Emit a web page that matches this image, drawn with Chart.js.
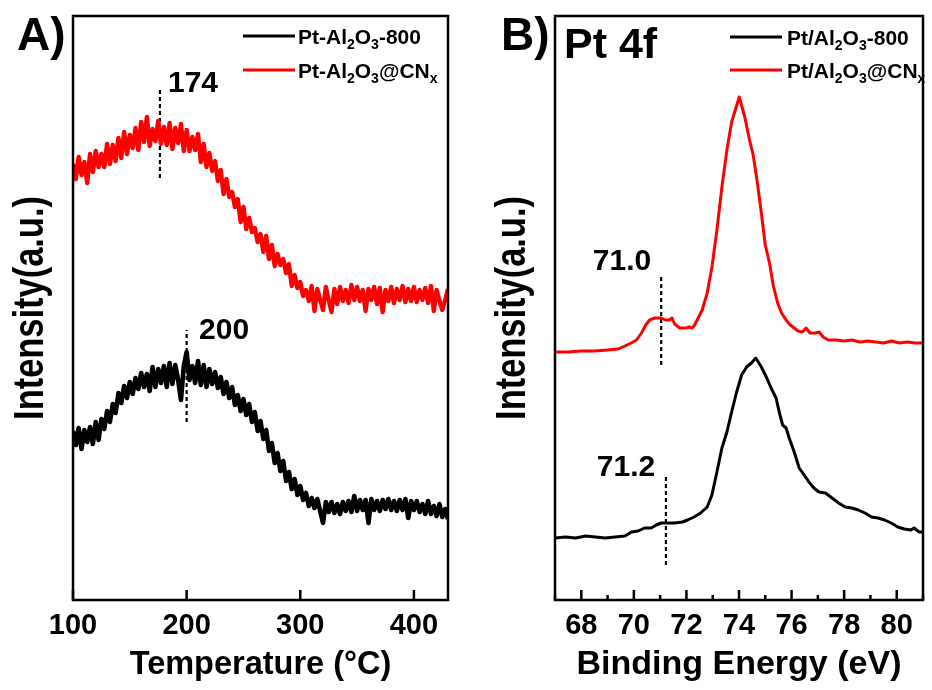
<!DOCTYPE html>
<html><head><meta charset="utf-8">
<script src="https://cdn.jsdelivr.net/npm/chart.js@4.4.1/dist/chart.umd.min.js"></script>
<style>
html,body{margin:0;padding:0;background:#fff;}
#wrap{position:relative;width:932px;height:690px;overflow:hidden;}
.panel{position:absolute;top:0;width:466px;height:690px;}
canvas{display:block;}
</style></head><body>
<div id="wrap">
<div class="panel" style="left:0"><canvas id="cA" width="466" height="690"></canvas></div>
<div class="panel" style="left:466px"><canvas id="cB" width="466" height="690"></canvas></div>
</div>
<script>
// ---------- Panel A: temperature-programmed traces (a.u.) ----------
const seriesNamesA = ['Pt-Al₂O₃-800', 'Pt-Al₂O₃@CNₓ'];
const tempA = [100,102.5,105,107.5,110,112.5,115,117.5,120,122.5,125,127.5,130,132.5,135,137.5,140,142.5,145,147.5,150,152.5,155,157.5,160,162.5,165,167.5,170,172.5,175,177.5,180,182.5,185,187.5,190,192.5,195,197.5,200,202.5,205,207.5,210,212.5,215,217.5,220,222.5,225,227.5,230,232.5,235,237.5,240,242.5,245,247.5,250,252.5,255,257.5,260,262.5,265,267.5,270,272.5,275,277.5,280,282.5,285,287.5,290,292.5,295,297.5,300,302.5,305,307.5,310,312.5,315,317.5,320,322.5,325,327.5,330,332.5,335,337.5,340,342.5,345,347.5,350,352.5,355,357.5,360,362.5,365,367.5,370,372.5,375,377.5,380,382.5,385,387.5,390,392.5,395,397.5,400,402.5,405,407.5,410,412.5,415,417.5,420,422.5,425,427.5,430];
const blackA = [169,155,172,151,170,158,173,156,178,160,
181,171,189,178,196,187,207,197,214,202,
218,206,222,211,227,213,226,209,233,213,
231,217,234,213,237,216,235,220,200,234,
248,220,234,217,239,215,235,213,231,216,
228,212,223,206,218,202,213,195,205,189,
201,185,196,178,188,169,179,161,170,149,
157,137,147,129,139,119,128,111,121,105,
114,100,107,94,102,92,101,89,77,98,
88,98,87,96,86,98,89,99,88,104,
89,100,90,100,77,101,90,99,89,100,
91,101,90,99,89,100,90,101,82,99,
90,99,88,96,86,99,86,94,84,96,
83,91,81];
const redA = [436,421,443,425,438,417,446,428,449,433,
446,433,456,436,455,439,462,442,468,446,
465,452,472,450,478,458,483,454,471,459,
479,456,473,455,477,451,472,457,476,449,
470,449,463,450,466,438,456,433,447,429,
439,419,430,406,421,403,408,393,401,378,
393,371,382,368,372,358,366,348,364,341,
355,334,346,335,341,327,336,314,325,312,
318,304,310,299,314,289,311,300,290,313,
300,288,311,296,313,299,310,297,315,300,
313,299,310,289,311,300,313,296,312,288,
310,299,313,297,311,300,314,298,311,299,
313,298,310,300,312,297,314,289,310,299,
290,300,311];
const ticksA = [100, 200, 300, 400];
// dashed peak markers (x, lower y, upper y) and their labels
const markA_x = [176.5, 200];
const markA_lo = [422, 178];
const markA_hi = [513, 270];
const markA_text = ['174', '200'];
const markA_labelX = [183.6, 210.9];
const markA_labelY = [516, 269];

// ---------- Panel B: Pt 4f XPS ----------
const seriesNamesB = ['Pt/Al₂O₃-800', 'Pt/Al₂O₃@CNₓ'];
const energyBlackB = [67.0,67.41,67.79,68.16,68.54,68.91,69.29,69.66,69.91,70.16,70.41,70.66,70.85,71.04,71.29,71.54,71.85,72.04,72.29,72.54,72.79,72.97,73.16,73.35,73.54,73.72,73.91,74.1,74.29,74.47,74.64,74.85,75.04,75.22,75.41,75.54,75.66,75.79,75.91,76.1,76.29,76.48,76.66,76.85,77.04,77.29,77.54,77.79,78.04,78.29,78.54,78.79,79.04,79.29,79.54,79.79,80.04,80.29,80.54,80.66,80.85,81.0];
const blackB = [62,63,62,64,63,62,63,64,68,69,72,72,75,77,77,77,78,80,83,87,93,105,128,152,168,188,208,225,233,237,242,233,223,212,202,187,175,172,162,148,132,125,118,112,108,107,102,97,93,92,90,87,83,82,80,77,73,71,70,72,68,68];
const energyRedB = [67.0,67.5,68.0,68.5,69.0,69.4,69.66,69.9,70.1,70.29,70.45,70.6,70.8,71.04,71.2,71.35,71.45,71.55,71.75,72.0,72.1,72.2,72.29,72.41,72.6,72.79,72.97,73.16,73.35,73.54,73.72,74.01,74.22,74.4,74.54,74.7,74.85,75.0,75.16,75.3,75.47,75.62,75.79,75.95,76.1,76.25,76.41,76.55,76.7,76.91,77.05,77.2,77.4,77.7,78.0,78.3,78.6,78.9,79.2,79.5,79.8,80.1,80.4,80.7,81.0];
const redB = [248,248,249,249,250,251,254,257,260,267,275,280,282,282,280,280,282,276,272,272,273,272,274,280,290,307,333,370,413,450,478,503,483,460,445,417,387,355,337,315,297,287,280,275,272,269,268,272,267,267,268,263,260,260,259,260,258,259,258,257,259,257,258,257,257];
const tickLabelsB = [68, 70, 72, 74, 76, 78, 80];
const markB_x = [71.04, 71.22];
const markB_lo = [235, 35];
const markB_hi = [326, 125];
const markB_text = ['71.0', '71.2'];
const markB_labelX = [70.66, 70.81];
const markB_labelY = [338, 132];

const yTitleText = 'Intensity(a.u.)';

// ---------- helpers ----------
const FONT = '"Liberation Sans", Arial, Helvetica, sans-serif';
const SUBMAP = {'₂':'2','₃':'3','ₓ':'x'};

function drawRich(ctx, x, y, str, size, subSize) {
  let cx = x;
  for (const ch of str) {
    if (SUBMAP[ch]) {
      ctx.font = `bold ${subSize}px ${FONT}`;
      ctx.fillText(SUBMAP[ch], cx, y + subSize * 0.42);
      cx += ctx.measureText(SUBMAP[ch]).width;
    } else {
      ctx.font = `bold ${size}px ${FONT}`;
      ctx.fillText(ch, cx, y);
      cx += ctx.measureText(ch).width;
    }
  }
}

const decoPlugin = {
  id: 'deco',
  afterDatasetsDraw(chart, args, o) {
    const {ctx, chartArea: a} = chart;
    const xs = chart.scales.x, ys = chart.scales.y;
    ctx.save();
    // inward ticks
    ctx.strokeStyle = '#000';
    ctx.lineWidth = 2.5;
    xs.ticks.forEach(t => {
      const px = xs.getPixelForValue(t.value);
      const major = o.majorEvery ? (Math.round(t.value) % o.majorEvery === 0) : true;
      const len = major ? 10 : 5;
      ctx.beginPath(); ctx.moveTo(px, a.bottom); ctx.lineTo(px, a.bottom - len); ctx.stroke();
    });
    // frame
    ctx.strokeRect(a.left, a.top, a.right - a.left, a.bottom - a.top);
    // y axis title (condensed bold, like the original)
    ctx.fillStyle = '#000';
    ctx.save();
    ctx.translate(o.yTitleX, (a.top + a.bottom) / 2);
    ctx.rotate(-Math.PI / 2);
    ctx.scale(0.82, 1);
    ctx.font = `bold 42px ${FONT}`;
    ctx.textAlign = 'center';
    ctx.textBaseline = 'alphabetic';
    ctx.fillText(yTitleText, 0, 15);
    ctx.restore();
    // peak labels
    ctx.textBaseline = 'middle';
    ctx.font = `bold 30px ${FONT}`;
    o.labels.text.forEach((t, i) => {
      ctx.textAlign = o.labels.align;
      ctx.fillText(t, xs.getPixelForValue(o.labels.x[i]), ys.getPixelForValue(o.labels.y[i]));
    });
    // panel label(s)
    ctx.textAlign = 'left';
    ctx.textBaseline = 'alphabetic';
    o.panel.forEach(p => {
      ctx.font = `bold ${p.size}px ${FONT}`;
      ctx.fillText(p.text, p.x, p.y);
    });
    // legend
    const L = o.legend;
    L.names.forEach((n, i) => {
      const y = L.y[i];
      ctx.strokeStyle = L.colors[i];
      ctx.lineWidth = 3;
      ctx.beginPath(); ctx.moveTo(L.x1, y); ctx.lineTo(L.x2, y); ctx.stroke();
      ctx.fillStyle = '#000';
      drawRich(ctx, L.tx, y + 7.5, n, 21, 14);
    });
    ctx.restore();
  }
};

function dashSets(xArr, lo, hi) {
  return xArr.map((x, i) => ({
    label: 'marker ' + i,
    data: [{x: x, y: lo[i]}, {x: x, y: hi[i]}],
    borderColor: '#000', borderWidth: 2.2, borderDash: [4, 3],
    pointRadius: 0, fill: false
  }));
}

function makeChart(id, cfg) {
  return new Chart(document.getElementById(id), {
    type: 'line',
    data: { datasets: cfg.datasets },
    plugins: [decoPlugin],
    options: {
      responsive: false, animation: false, events: [],
      layout: { padding: { top: 16, right: cfg.padRight, bottom: 0, left: 0 } },
      plugins: {
        legend: { display: false }, tooltip: { enabled: false },
        deco: cfg.deco
      },
      scales: {
        x: {
          type: 'linear', min: cfg.xmin, max: cfg.xmax,
          grid: { display: false, drawTicks: false }, border: { display: false },
          ticks: {
            stepSize: cfg.step, includeBounds: false, autoSkip: false, maxRotation: 0,
            padding: 9, color: '#000',
            font: { family: FONT, size: 29, weight: 'bold' },
            callback: cfg.tickCb
          },
          title: { display: true, text: cfg.xTitle, color: '#000',
            font: { family: FONT, size: cfg.xTitleSize, weight: 'bold' }, padding: { top: 0, bottom: 5 } },
          afterFit: s => { s.height = 90; }
        },
        y: {
          min: 0, max: 584,
          grid: { display: false, drawTicks: false }, border: { display: false },
          ticks: { display: false },
          title: { display: false, text: yTitleText },
          afterFit: s => { s.width = cfg.yWidth; }
        }
      }
    }
  });
}

const pts = (xs, ys) => xs.map((x, i) => ({x: x, y: ys[i]}));

makeChart('cA', {
  xmin: 100, xmax: 430, step: 100, padRight: 18, yWidth: 73,
  xTitle: 'Temperature (°C)', xTitleSize: 32.5,
  tickCb: v => (ticksA.includes(v) ? String(v) : ''),
  datasets: [
    { label: seriesNamesA[0], data: pts(tempA, blackA), borderColor: '#000', borderWidth: 4.6, pointRadius: 0, tension: 0, borderJoinStyle: 'round' },
    { label: seriesNamesA[1], data: pts(tempA, redA), borderColor: '#ff0000', borderWidth: 4.4, pointRadius: 0, tension: 0, borderJoinStyle: 'round' },
    ...dashSets(markA_x, markA_lo, markA_hi)
  ],
  deco: {
    majorEvery: 0, yTitleX: 28,
    labels: { text: markA_text, x: markA_labelX, y: markA_labelY, align: 'left' },
    panel: [{ text: 'A)', x: 17, y: 50, size: 46 }],
    legend: { names: seriesNamesA, colors: ['#000', '#ff0000'], y: [36, 70], x1: 243, x2: 295, tx: 298 }
  }
});

makeChart('cB', {
  xmin: 67, xmax: 81, step: 1, padRight: 2, yWidth: 89,
  xTitle: 'Binding Energy (eV)', xTitleSize: 34,
  tickCb: v => (tickLabelsB.includes(v) ? String(v) : ''),
  datasets: [
    { label: seriesNamesB[0], data: pts(energyBlackB, blackB), borderColor: '#000', borderWidth: 3, pointRadius: 0, tension: 0, borderJoinStyle: 'round' },
    { label: seriesNamesB[1], data: pts(energyRedB, redB), borderColor: '#ff0000', borderWidth: 3, pointRadius: 0, tension: 0, borderJoinStyle: 'round' },
    ...dashSets(markB_x, markB_lo, markB_hi)
  ],
  deco: {
    majorEvery: 2, yTitleX: 44,
    labels: { text: markB_text, x: markB_labelX, y: markB_labelY, align: 'right' },
    panel: [{ text: 'B)', x: 35, y: 50, size: 46 }, { text: 'Pt 4f', x: 98, y: 58, size: 43 }],
    legend: { names: seriesNamesB, colors: ['#000', '#ff0000'], y: [37, 70], x1: 264, x2: 316, tx: 321 }
  }
});
</script>
</body></html>
